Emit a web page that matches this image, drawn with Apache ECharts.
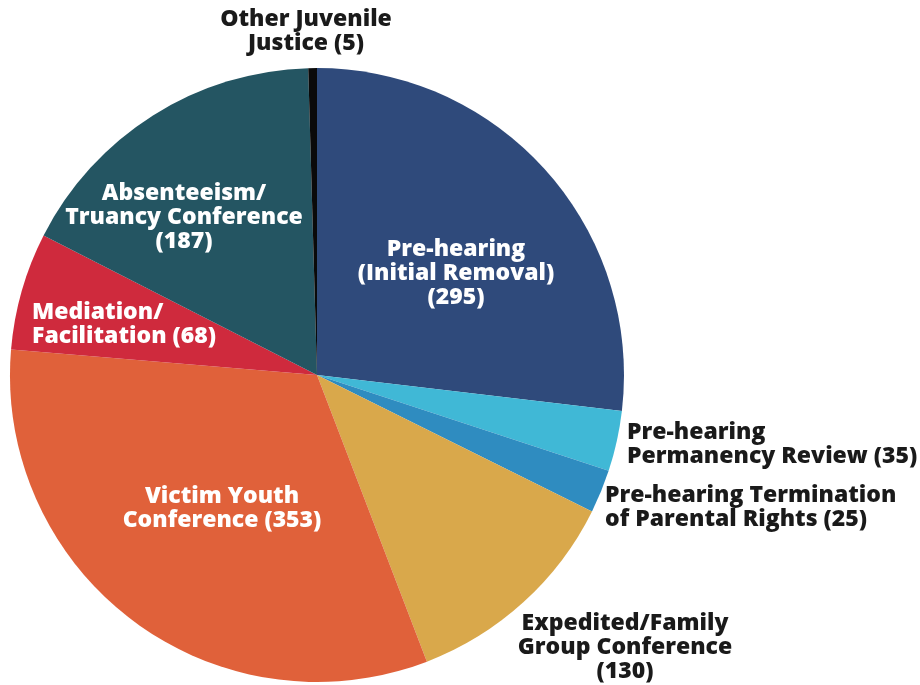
<!DOCTYPE html>
<html>
<head>
<meta charset="utf-8">
<script src="https://cdn.jsdelivr.net/npm/echarts@6/dist/echarts.min.js"></script>
<style>
  html, body { margin: 0; padding: 0; background: #fff; }
  #chart-container { width: 920px; height: 685px; }
</style>
</head>
<body>
<div id="chart-container"></div>
<script>
// slices, clockwise from 12 o'clock
const categories = [
    'Pre-hearing (Initial Removal)',
    'Pre-hearing Permanency Review',
    'Pre-hearing Termination of Parental Rights',
    'Expedited/Family Group Conference',
    'Victim Youth Conference',
    'Mediation/Facilitation',
    'Absenteeism/Truancy Conference',
    'Other Juvenile Justice'
];
const counts = [295, 35, 25, 130, 353, 68, 187, 5];
const labelLines = [
    'Pre-hearing\n(Initial Removal)\n',
    'Pre-hearing\nPermanency Review ',
    'Pre-hearing Termination\nof Parental Rights ',
    'Expedited/Family\nGroup Conference\n',
    'Victim Youth\nConference ',
    'Mediation/\nFacilitation ',
    'Absenteeism/\nTruancy Conference\n',
    'Other Juvenile\nJustice '
];
const colors = ['#2f4a7b', '#40b8d6', '#2f8cc0', '#d9a84b', '#e0613a', '#cf2a3d', '#245562', '#0a0a0a'];
const insideLabel = [true, false, false, false, true, true, true, false];

// label block placement (anchor x, center y, align)
const labelSpots = [
    [456, 273, 'center'],
    [627, 444, 'left'],
    [605, 507, 'left'],
    [625, 647, 'center'],
    [222, 508, 'center'],
    [32, 324, 'left'],
    [184, 217, 'center'],
    [306, 31, 'center']
];

var dom = document.getElementById('chart-container');
var myChart = echarts.init(dom, null, { renderer: 'canvas' });

var option = {
    animation: false,
    series: [{
        type: 'pie',
        center: [317, 375],
        radius: 307,
        startAngle: 90,
        clockwise: true,
        avoidLabelOverlap: false,
        label: {
            show: true,
            position: 'outside',
            fontFamily: 'Open Sans',
            fontWeight: 800,
            fontSize: 23,
            lineHeight: 24,
            formatter: function (p) {
                return labelLines[p.dataIndex] + '(' + p.value + ')';
            }
        },
        labelLine: { show: false },
        labelLayout: function (params) {
            const s = labelSpots[params.dataIndex];
            return { x: s[0], y: s[1], align: s[2], verticalAlign: 'middle' };
        },
        emphasis: { disabled: true },
        data: categories.map(function (name, i) {
            return {
                name: name,
                value: counts[i],
                itemStyle: { color: colors[i] },
                label: {
                    color: insideLabel[i] ? '#ffffff' : '#1a1a1a',
                    align: labelSpots[i][2]
                }
            };
        })
    }]
};

myChart.setOption(option);
</script>
</body>
</html>
